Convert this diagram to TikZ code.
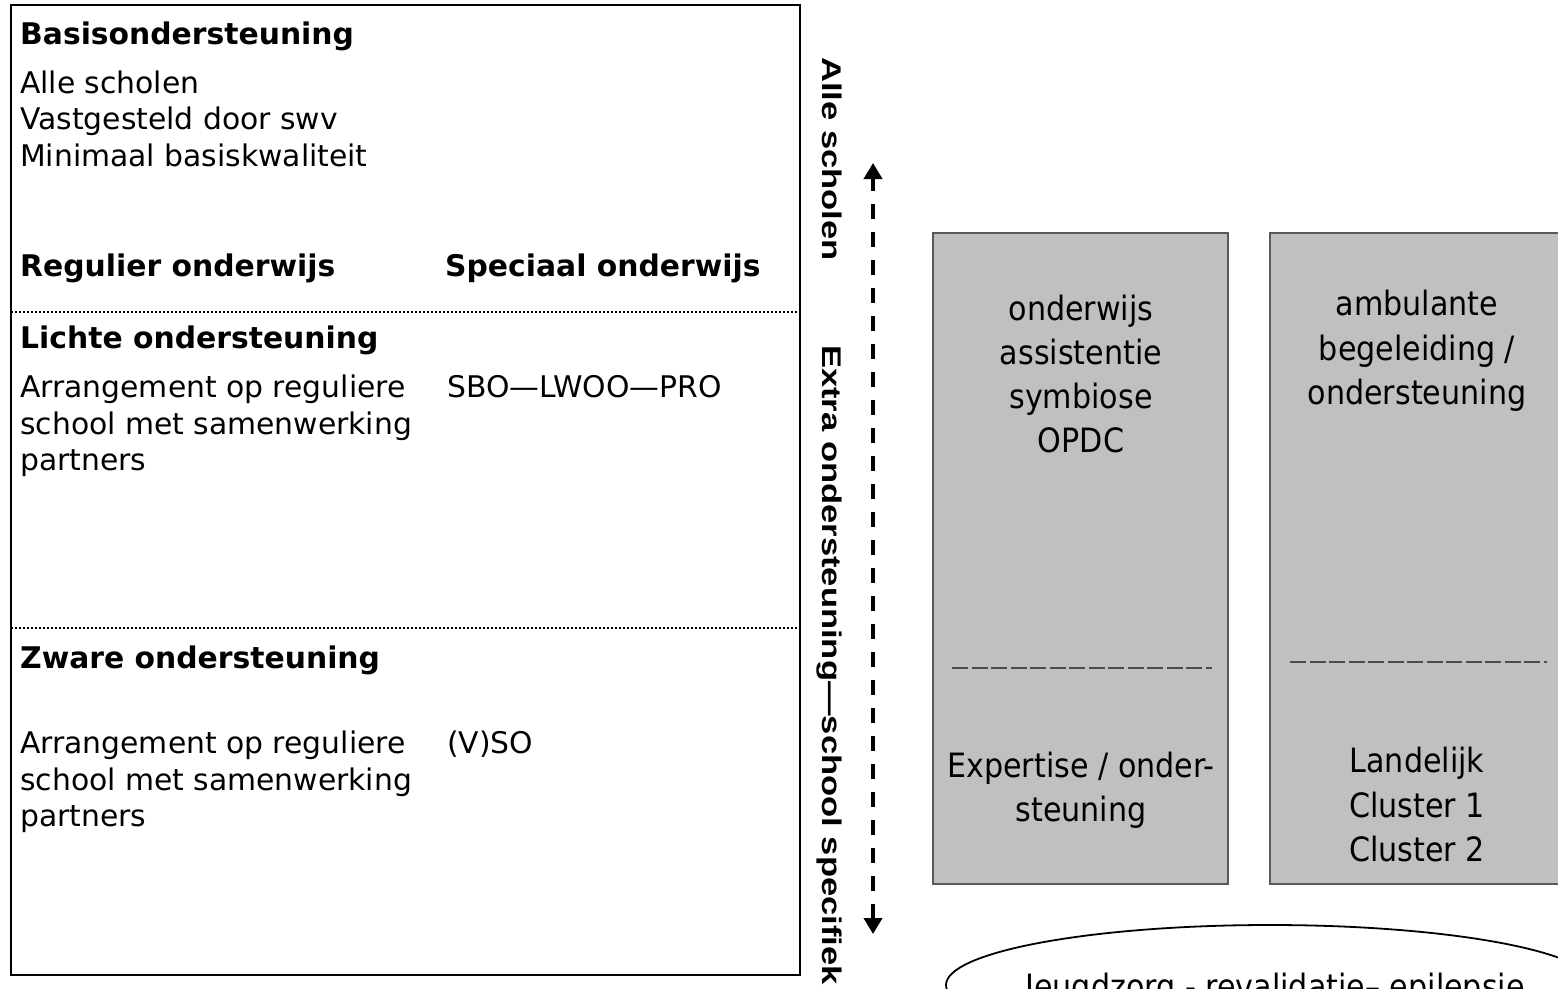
\documentclass[tikz,border=0pt]{standalone}
\usepackage{fontspec}
\setmainfont{DejaVu Sans}
\newfontfamily\boxfont[FakeStretch=0.9]{DejaVu Sans}
\newfontfamily\sidefont[FakeStretch=1.28]{Liberation Sans}
\usetikzlibrary{arrows.meta}
\definecolor{graybox}{HTML}{C0C0C0}
\begin{document}
\begin{tikzpicture}[x=1pt,y=-1pt,
  lt/.style={anchor=base west, inner sep=0pt, font=\fontsize{29.8}{34}\selectfont},
  lb/.style={anchor=base west, inner sep=0pt, font=\fontsize{29.8}{34}\selectfont\bfseries},
  bt/.style={anchor=base, inner sep=0pt, font=\boxfont\fontsize{33.5}{40}\selectfont},
  gbox/.style={draw=black!65, fill=graybox, line width=1.5pt},
  sepline/.style={dash pattern=on 2pt off 2pt, line width=2.4pt},
  uline/.style={draw=black!70, line width=1.6pt, dash pattern=on 16pt off 3.5pt},
  side/.style={rotate=-90, inner sep=0pt, anchor=base west, font=\sidefont\bfseries\fontsize{27}{30}\selectfont},
  dblarrow/.style={line width=3.8pt, dash pattern=on 15pt off 13pt, {Triangle[width=18pt,length=16pt]}-{Triangle[width=18pt,length=16pt]}},
]
\useasboundingbox (0,0) rectangle (1558,988);
\clip (0,0) rectangle (1558,988);

% left panel
\draw[line width=2.8pt] (11,5) rectangle (800,975);
\coordinate (s1l) at (11,312); \coordinate (s1r) at (800,312);
\coordinate (s2l) at (11,628); \coordinate (s2r) at (800,628);
\draw[sepline] (s1l) -- (s1r);
\draw[sepline] (s2l) -- (s2r);

\node[lb] (basis) at (20,44) {Basisondersteuning};
\node[lt] (b1) at (20,93) {Alle scholen};
\node[lt] (b2) at (20,129) {Vastgesteld door swv};
\node[lt] (b3) at (20,166) {Minimaal basiskwaliteit};
\node[lb] (reg) at (20,276) {Regulier onderwijs};
\node[lb] (spec) at (445,276) {Speciaal onderwijs};

\node[lb] (licht) at (20,348) {Lichte ondersteuning};
\node[lt] (l1) at (20,397) {Arrangement op reguliere};
\node[lt] (l2) at (20,434) {school met samenwerking};
\node[lt] (l3) at (20,470) {partners};
\node[lt] (l4) at (447,397) {SBO—LWOO—PRO};

\node[lb] (zwaar) at (20,668) {Zware ondersteuning};
\node[lt] (z1) at (20,753) {Arrangement op reguliere};
\node[lt] (z2) at (20,790) {school met samenwerking};
\node[lt] (z3) at (20,826) {partners};
\node[lt] (z4) at (447,753) {(V)SO};

% side labels and arrow
\node[side] (alle) at (822,57) {Alle scholen};
\node[side] (extra) at (822,345) {Extra ondersteuning—school specifiek};
\coordinate (atop) at (873,163);
\coordinate (abot) at (873,934);
\draw[dblarrow] (abot) -- (atop);

% gray boxes
\node[gbox, minimum width=295pt, minimum height=651pt, inner sep=0pt] (box1) at (1080.5,558.5) {};
\node[gbox, minimum width=296pt, minimum height=651pt, inner sep=0pt] (box2) at (1418,558.5) {};

\node[bt] (o1) at (1081,320) {onderwijs};
\node[bt] (o2) at (1081,364) {assistentie};
\node[bt] (o3) at (1081,408) {symbiose};
\node[bt] (o4) at (1081,452) {OPDC};
\coordinate (u1a) at (952,668); \coordinate (u1b) at (1212,668);
\draw[uline] (u1a) -- (u1b);
\node[bt] (e1) at (1081,777) {Expertise / onder-};
\node[bt] (e2) at (1081,821) {steuning};

\node[bt] (a1) at (1417,315) {ambulante};
\node[bt] (a2) at (1417,360) {begeleiding /};
\node[bt] (a3) at (1417,404) {ondersteuning};
\coordinate (u2a) at (1290,662); \coordinate (u2b) at (1547,662);
\draw[uline] (u2a) -- (u2b);
\node[bt] (c1) at (1417,772) {Landelijk};
\node[bt] (c2) at (1417,817) {Cluster 1};
\node[bt] (c3) at (1417,861) {Cluster 2};

% ellipse
\draw[line width=1.8pt] (1270,985) ellipse [x radius=324, y radius=60];
\node[bt] (jeugd) at (1275,998) {Jeugdzorg - revalidatie– epilepsie};
\end{tikzpicture}
\end{document}
